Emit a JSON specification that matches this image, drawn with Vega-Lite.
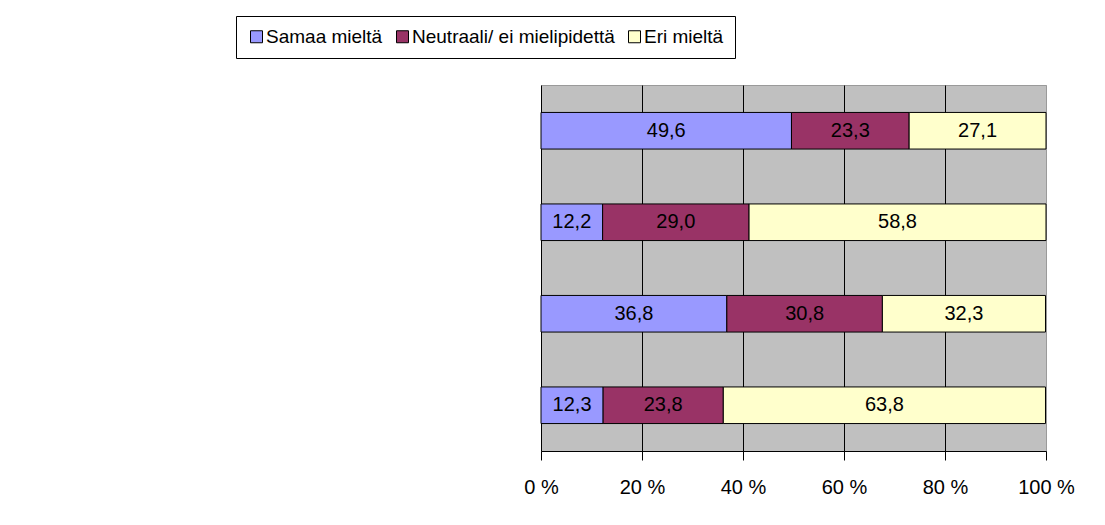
{
  "$schema": "https://vega.github.io/schema/vega-lite/v6.json",
  "width": 505,
  "height": 366,
  "autosize": "none",
  "padding": {"left": 541, "top": 85, "right": 59, "bottom": 74},
  "background": "white",
  "config": {
    "locale": {"number": {"decimal": ",", "thousands": " ", "grouping": [3], "currency": ["", " €"]}},
    "font": "Liberation Sans",
    "view": {"fill": "#C0C0C0", "stroke": "#9a9a9a"}
  },
  "data": {
    "values": [
      {"q": "Päätöksenteon avoimuus lisääntyy (n=133)", "cat": "Samaa mieltä", "i": 1, "v": 49.6},
      {"q": "Päätöksenteon avoimuus lisääntyy (n=133)", "cat": "Neutraali/ ei mielipidettä", "i": 2, "v": 23.3},
      {"q": "Päätöksenteon avoimuus lisääntyy (n=133)", "cat": "Eri mieltä", "i": 3, "v": 27.1},
      {"q": "Päätöksenteon avoimuus on lisääntynyt (n=131)", "cat": "Samaa mieltä", "i": 1, "v": 12.2},
      {"q": "Päätöksenteon avoimuus on lisääntynyt (n=131)", "cat": "Neutraali/ ei mielipidettä", "i": 2, "v": 29.0},
      {"q": "Päätöksenteon avoimuus on lisääntynyt (n=131)", "cat": "Eri mieltä", "i": 3, "v": 58.8},
      {"q": "Kansalaisten osallistumismahdollisuudet lisääntyvät\n(n=133)", "cat": "Samaa mieltä", "i": 1, "v": 36.8},
      {"q": "Kansalaisten osallistumismahdollisuudet lisääntyvät\n(n=133)", "cat": "Neutraali/ ei mielipidettä", "i": 2, "v": 30.8},
      {"q": "Kansalaisten osallistumismahdollisuudet lisääntyvät\n(n=133)", "cat": "Eri mieltä", "i": 3, "v": 32.3},
      {"q": "Kansalaisten osallistumismahdollisuudet ovat\nlisääntyneet (n=130)", "cat": "Samaa mieltä", "i": 1, "v": 12.3},
      {"q": "Kansalaisten osallistumismahdollisuudet ovat\nlisääntyneet (n=130)", "cat": "Neutraali/ ei mielipidettä", "i": 2, "v": 23.8},
      {"q": "Kansalaisten osallistumismahdollisuudet ovat\nlisääntyneet (n=130)", "cat": "Eri mieltä", "i": 3, "v": 63.8}
    ]
  },
  "transform": [
    {"stack": "v", "groupby": ["q"], "sort": [{"field": "i", "order": "ascending"}], "as": ["v0", "v1"]},
    {"calculate": "(datum.v0 + datum.v1) / 2", "as": "vm"}
  ],
  "layer": [
    {
      "mark": {"type": "bar", "stroke": "black", "strokeWidth": 1, "height": {"band": 0.4}},
      "encoding": {
        "y": {
          "field": "q",
          "type": "nominal",
          "sort": null,
          "scale": {"paddingInner": 0, "paddingOuter": 0},
          "axis": {
            "title": null,
            "labelExpr": "split(datum.label, '\\n')",
            "labelFontSize": 20.8,
            "labelColor": "black",
            "labelLineHeight": 30,
            "labelAlign": {"condition": {"test": "isString(datum.value) && indexof(datum.value, '\\n') >= 0", "value": "center"}, "value": "right"},
            "labelBaseline": {"condition": {"test": "isString(datum.value) && indexof(datum.value, '\\n') >= 0", "value": "line-bottom"}, "value": "middle"},
            "labelPadding": {"condition": [
              {"test": "isString(datum.value) && indexof(datum.value, 'lisääntyvät') >= 0", "value": 269},
              {"test": "isString(datum.value) && indexof(datum.value, 'ovat') >= 0", "value": 240}
            ], "value": 32},
            "labelLimit": 600,
            "tickBand": "extent",
            "tickSize": 7,
            "tickColor": "black",
            "domainColor": "black",
            "grid": false
          }
        },
        "x": {
          "field": "v0",
          "type": "quantitative",
          "scale": {"domain": [0, 100], "nice": false},
          "axis": {
            "title": null,
            "values": [0, 20, 40, 60, 80, 100],
            "labelExpr": "datum.value + ' %'",
            "labelFontSize": 20,
            "labelColor": "black",
            "labelPadding": 17,
            "labelFlush": false,
            "labelOverlap": false,
            "tickSize": 9,
            "tickColor": "black",
            "domainColor": "black",
            "grid": true,
            "gridColor": {"condition": {"test": "datum.value == 100", "value": "#9a9a9a"}, "value": "black"},
            "gridOpacity": 1
          }
        },
        "x2": {"field": "v1"},
        "color": {
          "field": "cat",
          "type": "nominal",
          "scale": {"domain": ["Samaa mieltä", "Neutraali/ ei mielipidettä", "Eri mieltä"], "range": ["#9999FF", "#993366", "#FFFFCC"]},
          "legend": {
            "title": null,
            "orient": "none",
            "legendX": -305,
            "legendY": -69,
            "direction": "horizontal",
            "strokeColor": "black",
            "fillColor": "white",
            "padding": 11,
            "labelFontSize": 19,
            "labelColor": "black",
            "labelLimit": 400,
            "symbolType": "square",
            "symbolSize": 144,
            "symbolStrokeColor": "black",
            "symbolStrokeWidth": 1,
            "columnPadding": 10,
            "labelOffset": 0
          }
        }
      }
    },
    {
      "mark": {"type": "text", "fontSize": 20, "color": "black"},
      "encoding": {
        "y": {"field": "q", "type": "nominal", "sort": null, "axis": null},
        "x": {"field": "vm", "type": "quantitative"},
        "text": {"field": "v", "type": "quantitative", "format": ".1f"}
      }
    }
  ]
}
